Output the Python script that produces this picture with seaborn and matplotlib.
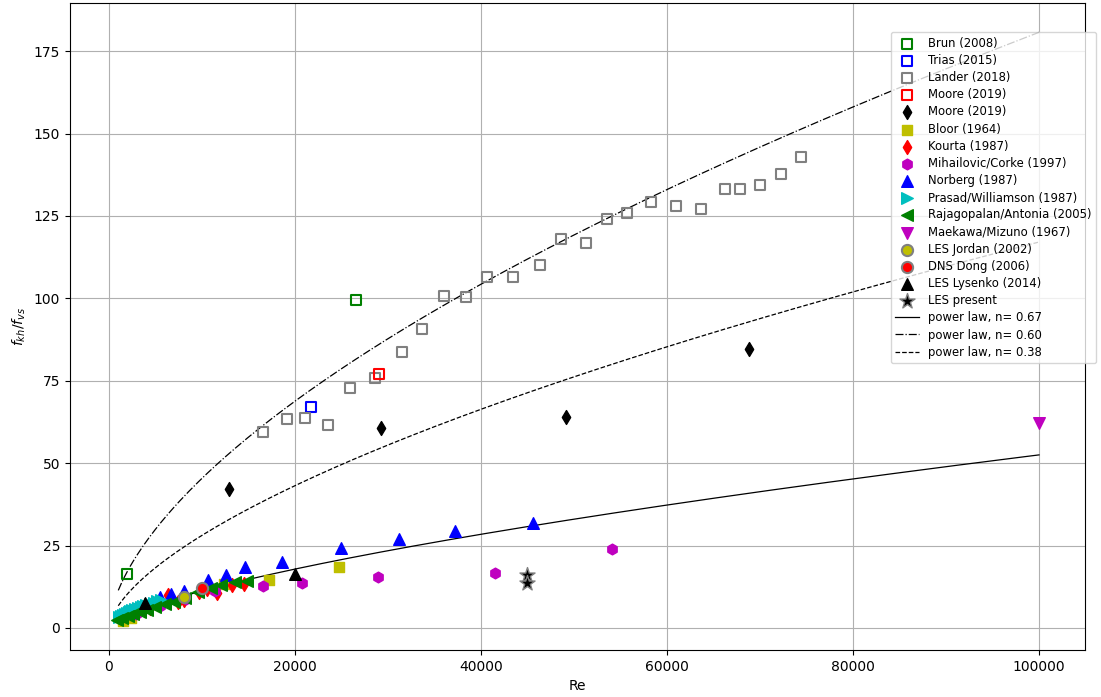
import numpy as np
import matplotlib
matplotlib.use("Agg")
import matplotlib.pyplot as plt
import seaborn as sns

# ---- measured ratios f_kh / f_vs against Reynolds number ----
brun_re = [1950, 26560]
brun_f = [16.4, 99.5]

trias_re = [21720]
trias_f = [67.0]

lander_re = [16560, 19140, 21075, 23550, 25910, 28600, 31505, 33660, 36020,
             38390, 40645, 43440, 46345, 48600, 51290, 53550, 55700, 58280,
             60970, 63660, 66240, 67850, 70000, 72260, 74410]
lander_f = [59.5, 63.4, 63.7, 61.6, 72.8, 75.8, 83.7, 90.7, 100.7,
            100.4, 106.5, 106.5, 110.1, 118.0, 116.8, 124.1, 125.9, 129.2,
            128.0, 127.1, 133.2, 133.2, 134.4, 137.7, 142.9]

moore_sq_re = [29030]
moore_sq_f = [77.0]

moore_d_re = [12900, 29250, 49140, 68820]
moore_d_f = [42.2, 60.7, 64.0, 84.6]

bloor_re = [1500, 2400, 12370, 17200, 24730]
bloor_f = [2.2, 3.0, 13.3, 14.6, 18.5]

kourta_re = [4400, 5300, 6300, 7400, 8100, 9700, 10500, 11600, 13200, 14500]
kourta_f = [6.1, 7.2, 9.9, 8.0, 8.6, 10.9, 11.8, 10.6, 13.0, 13.3]

mihailovic_re = [2900, 5500, 8300, 11400, 16560, 20750, 28900, 41500, 54090]
mihailovic_f = [4.2, 6.8, 8.9, 11.2, 12.7, 13.7, 15.5, 16.7, 24.0]

norberg_re = [5500, 6700, 8100, 10650, 12580, 14620, 18600, 24950, 31200,
              37200, 45600]
norberg_f = [9.3, 10.4, 11.3, 14.4, 16.1, 18.4, 20.0, 24.3, 27.0, 29.4, 31.9]

prasad_re = [1100, 1300, 1500, 1700, 1900, 2100, 2300, 2500, 2800, 3100,
             3400, 3700, 4000, 4400, 4800, 5200, 5600]
prasad_f = [3.3, 3.6, 3.9, 4.2, 4.5, 4.8, 5.0, 5.3, 5.6, 6.0,
            6.3, 6.6, 6.9, 7.3, 7.7, 8.1, 8.5]

rajagopalan_re = [900, 1400, 2000, 2600, 3300, 4100, 5000, 6000, 7000, 8200,
                  9600, 11000, 12000, 13500, 14800]
rajagopalan_f = [2.4, 2.9, 3.5, 4.1, 4.8, 5.5, 6.3, 7.2, 8.0, 9.0,
                 10.9, 12.0, 13.0, 13.8, 14.3]

maekawa_re = [100000]
maekawa_f = [62.2]

jordan_re = [8060]
jordan_f = [9.4]

dong_re = [10000]
dong_f = [12.1]

lysenko_re = [3870, 20000]
lysenko_f = [7.6, 16.4]

present_re = [44950, 44950]
present_f = [16.1, 13.7]

# ---- power-law fits  f = C * Re**p ----
fit_re_min, fit_re_max = 1000, 100000
fit_labels = ["power law, n= 0.67", "power law, n= 0.60", "power law, n= 0.38"]
fit_coef = [0.02345, 0.1807, 0.093]
fit_n = [0.67, 0.60, 0.38]
fit_power = [0.67, 0.60, 1 - 0.38]
fit_styles = ["-", "-.", "--"]

fig, ax = plt.subplots(figsize=(11.01, 6.97), dpi=100)
fig.subplots_adjust(left=0.0636, right=0.9855, top=0.9957, bottom=0.0674)
ax.grid(True, color="#b0b0b0", linewidth=0.8, zorder=0)
ax.set_axisbelow(True)

series = [
    (brun_re, brun_f, "Brun (2008)", "s", "none", "g", 55, 1.5),
    (trias_re, trias_f, "Trias (2015)", "s", "none", "b", 55, 1.5),
    (lander_re, lander_f, "Lander (2018)", "s", "none", "grey", 55, 1.5),
    (moore_sq_re, moore_sq_f, "Moore (2019)", "s", "none", "r", 55, 1.5),
    (moore_d_re, moore_d_f, "Moore (2019)", "d", "k", "k", 50, 1.0),
    (bloor_re, bloor_f, "Bloor (1964)", "s", "y", "y", 55, 1.0),
    (kourta_re, kourta_f, "Kourta (1987)", "d", "r", "r", 50, 1.0),
    (mihailovic_re, mihailovic_f, "Mihailovic/Corke (1997)", "h", "m", "m", 60, 1.0),
    (norberg_re, norberg_f, "Norberg (1987)", "^", "b", "b", 70, 1.0),
    (prasad_re, prasad_f, "Prasad/Williamson (1987)", ">", "c", "c", 70, 1.0),
    (rajagopalan_re, rajagopalan_f, "Rajagopalan/Antonia (2005)", "<", "g", "g", 70, 1.0),
    (maekawa_re, maekawa_f, "Maekawa/Mizuno (1967)", "v", "m", "m", 70, 1.0),
    (jordan_re, jordan_f, "LES Jordan (2002)", "o", "y", "grey", 65, 1.5),
    (dong_re, dong_f, "DNS Dong (2006)", "o", "r", "grey", 65, 1.5),
    (lysenko_re, lysenko_f, "LES Lysenko (2014)", "^", "k", "k", 70, 1.0),
    (present_re, present_f, "LES present", "*", "k", "grey", 130, 1.0),
]

for re_vals, f_vals, label, marker, face, edge, size, lw in series:
    sns.scatterplot(x=re_vals, y=f_vals, marker=marker, s=size, color=edge,
                    facecolors=face, edgecolor=edge, linewidth=lw,
                    label=label, ax=ax, zorder=3, legend=False)

re_fit = np.linspace(fit_re_min, fit_re_max, 300)
for lab, c, p, ls in zip(fit_labels, fit_coef, fit_power, fit_styles):
    sns.lineplot(x=re_fit, y=c * re_fit ** p, color="k", linestyle=ls,
                 linewidth=0.9, label=lab, ax=ax, zorder=2, legend=False)

ax.set_xlim(-4190, 104950)
ax.set_ylim(-6.7, 189.6)
ax.set_xlabel("Re", fontsize=10)
ax.set_ylabel("$f_{kh}/f_{vs}$", fontsize=10)
ax.set_yticks([0, 25, 50, 75, 100, 125, 150, 175])
ax.set_xticks([0, 20000, 40000, 60000, 80000, 100000])
ax.tick_params(labelsize=10)

handles, labels = ax.get_legend_handles_labels()
scatter_items = [(h, l) for h, l in zip(handles, labels) if l not in fit_labels]
line_items = [(h, l) for h, l in zip(handles, labels) if l in fit_labels]
items = scatter_items + line_items
ax.legend([h for h, _ in items], [l for _, l in items], loc="upper right",
          bbox_to_anchor=(1.0108, 0.955), borderaxespad=0, fontsize="small",
          framealpha=0.8, labelspacing=0.36)

fig.savefig("out.png", dpi=100)
